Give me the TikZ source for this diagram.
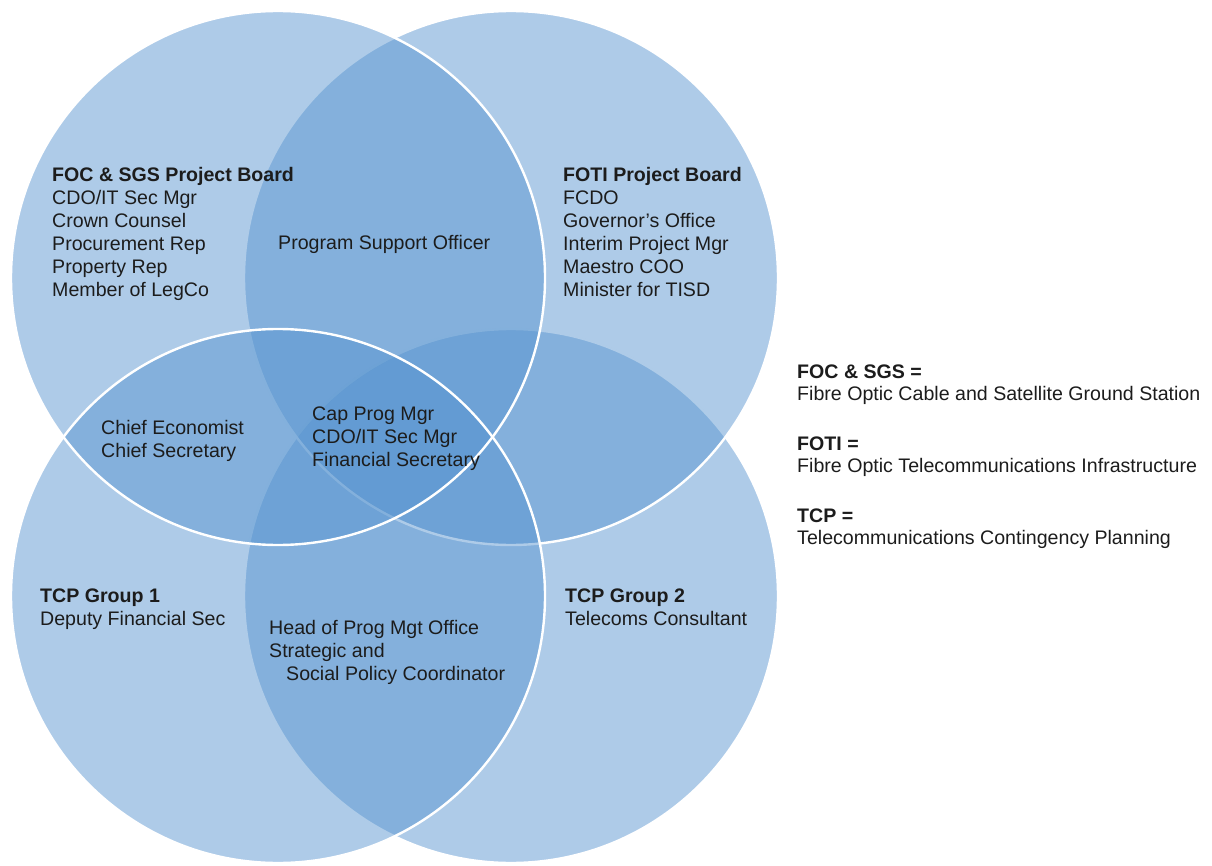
\documentclass[tikz,border=0pt]{standalone}
\usepackage{fontspec}
\setmainfont{Liberation Sans}
\usepackage{xcolor}
\usepackage{tikz}
\definecolor{vennblue}{RGB}{86,147,207}
\definecolor{ink}{RGB}{28,28,28}

\begin{document}
\begin{tikzpicture}[
  x=1pt,
  y=-1pt,
  venn/.style={fill=vennblue, fill opacity=0.48},
  rim/.style={draw=white, line width=2.4pt},
  entry/.style={font=\fontsize{19.6}{23}\selectfont, text=ink, inner sep=0pt, anchor=base west},
  heading/.style={entry, font=\fontsize{19.6}{23}\selectfont\bfseries}
]

% Page: 1212 x 866, y runs downwards.
\useasboundingbox (0,0) rectangle (1212,866);

% Circle centres, all radius 267.
\coordinate (focring)  at (278,278);
\coordinate (fotiring) at (511,278);
\coordinate (tcpring1) at (278,596);
\coordinate (tcpring2) at (511,596);

% Right-hand circles first; their rims get tinted by the later fills.
\foreach \c in {tcpring2,fotiring} {
  \fill[venn] (\c) circle[radius=267pt];
  \draw[rim] (\c) circle[radius=267pt];
}
\foreach \c in {focring,tcpring1} \fill[venn] (\c) circle[radius=267pt];
\foreach \c in {focring,tcpring1} \draw[rim] (\c) circle[radius=267pt];

% FOC & SGS board (top left).
\node[heading] (focA) at (52,182) {FOC \& SGS Project Board};
\foreach \lab [count=\i] in {CDO/IT Sec Mgr, Crown Counsel, Procurement Rep, Property Rep, Member of LegCo}
  \node[entry] (focline\i) at (52,{182+23*\i}) {\lab};

% FOTI board (top right).
\node[heading] (fotiA) at (563,182) {FOTI Project Board};
\foreach \lab [count=\i] in {FCDO, Governor's Office, Interim Project Mgr, Maestro COO, Minister for TISD}
  \node[entry] (fotiline\i) at (563,{182+23*\i}) {\lab};

% Overlaps.
\node[entry] (pso) at (278,250) {Program Support Officer};
\foreach \lab [count=\i from 0] in {Chief Economist, Chief Secretary}
  \node[entry] (chief\i) at (101,{434+23*\i}) {\lab};
\foreach \lab [count=\i from 0] in {Cap Prog Mgr, CDO/IT Sec Mgr, Financial Secretary}
  \node[entry] (core\i) at (312,{420+23*\i}) {\lab};
\node[entry] (hpmo1) at (269,634) {Head of Prog Mgt Office};
\node[entry] (hpmo2) at (269,657) {Strategic and};
\node[entry] (hpmo3) at (286,680) {Social Policy Coordinator};

% TCP groups (bottom).
\node[heading] (tcpA) at (40,602) {TCP Group 1};
\node[entry] (tcpA1) at (40,625) {Deputy Financial Sec};
\node[heading] (tcpB) at (565,602) {TCP Group 2};
\node[entry] (tcpB1) at (565,625) {Telecoms Consultant};

% Abbreviations.
\foreach \yy/\key/\desc/\n in {378/FOC \& SGS =/Fibre Optic Cable and Satellite Ground Station/a,
                              450/FOTI =/Fibre Optic Telecommunications Infrastructure/b,
                              522/TCP =/Telecommunications Contingency Planning/c} {
  \node[heading] (key\n) at (797,\yy) {\key};
  \node[entry] (desc\n) at (797,{\yy+22}) {\desc};
}
\end{tikzpicture}
\end{document}
